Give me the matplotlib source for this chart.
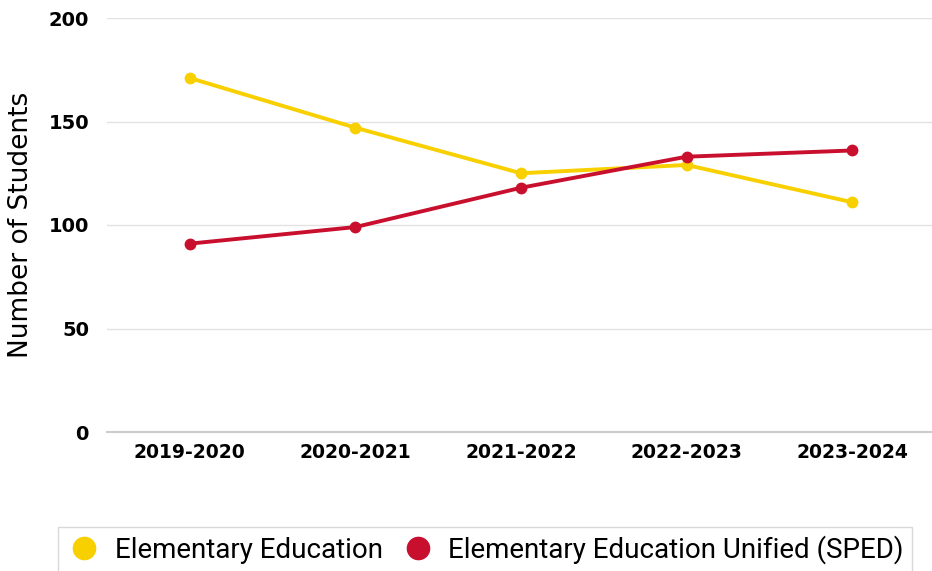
import matplotlib.pyplot as plt

# Datos
years = ['2019-2020', '2020-2021', '2021-2022', '2022-2023', '2023-2024']
elem_ed = [171, 147, 125, 129, 111]
elem_sped = [91, 99, 118, 133, 136]
y_ticks = [0, 50, 100, 150, 200]

YELLOW = '#F8D000'
RED = '#C8102E'

fig = plt.figure(figsize=(9.32, 5.71), dpi=100)
ax = fig.add_axes([107 / 932, (571 - 432) / 571, 828 / 932, 414 / 571])

x = list(range(len(years)))
ax.plot(x, elem_ed, color=YELLOW, lw=2.8, marker='o', ms=7.5, label='Elementary Education', zorder=3)
ax.plot(x, elem_sped, color=RED, lw=2.8, marker='o', ms=7.5, label='Elementary Education Unified (SPED)', zorder=4)

ax.set_xlim(-0.5, len(years) - 0.5)
ax.set_ylim(0, 200)
ax.set_yticks(y_ticks)
ax.set_xticks(x)
ax.set_xticklabels(years, fontsize=13.5, fontweight='bold', family='DejaVu Sans')
ax.set_yticklabels([str(t) for t in y_ticks], fontsize=14, fontweight='bold', family='DejaVu Sans')
ax.tick_params(length=0, pad=13, axis='y')
ax.tick_params(length=0, pad=8, axis='x')

ax.grid(axis='y', color='#e2e2e2', lw=1)
ax.set_axisbelow(True)
for s in ['top', 'right', 'left']:
    ax.spines[s].set_visible(False)
ax.spines['bottom'].set_color('#cccccc')
ax.spines['bottom'].set_linewidth(1.5)

ax.set_ylabel('Number of Students', fontsize=19, family='DejaVu Sans', labelpad=10)

# Leyenda abajo, pegada al borde como en el original
leg = fig.legend(loc='upper left', bbox_to_anchor=(58 / 932, 1 - 527 / 571),
                 ncol=2, frameon=True, fancybox=False, edgecolor='#d0d0d0',
                 handlelength=1.3, handletextpad=0.45, columnspacing=0.6,
                 borderpad=0.3, borderaxespad=0,
                 prop={'family': 'Roboto', 'size': 20})
for h in leg.legend_handles:
    h.set_linestyle('none')
    h.set_markersize(16)

fig.savefig('out.png', dpi=100)
